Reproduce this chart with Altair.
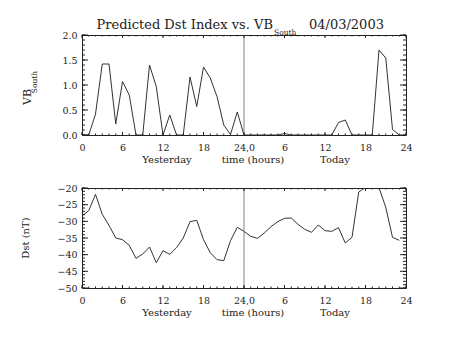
import altair as alt
import pandas as pd

# ---------------- data ----------------
hours = list(range(48))  # 0-23 yesterday, 24-47 today
vb_yesterday = [0, 0, 0.42, 1.42, 1.42, 0.22, 1.07, 0.80, 0, 0, 1.40, 0.97,
                0, 0.40, 0, 0, 1.16, 0.57, 1.36, 1.14, 0.77, 0.20, 0.01, 0.46]
vb_today = [0, 0, 0, 0, 0, 0, 0.03, 0, 0, 0, 0, 0,
            0, 0, 0.25, 0.30, 0, 0, 0, 0, 1.70, 1.54, 0.11, 0]
dst_yesterday = [-28.4, -26.8, -21.9, -27.9, -31.2, -35.0, -35.5, -37.2, -41.1, -39.8, -37.7, -42.4,
                 -38.8, -39.9, -37.9, -35.0, -30.1, -29.7, -35.5, -39.4, -41.5, -41.8, -35.8, -31.8]
dst_today = [-33.0, -34.5, -35.1, -33.5, -31.6, -30.1, -29.1, -29.0, -30.9, -32.4, -33.3, -31.1,
             -32.8, -33.0, -31.9, -36.5, -34.8, -21.2, -19.8, -18.5, -19.9, -25.8, -34.8, -35.7]

x_tick_values = [0, 6, 12, 18, 24, 30, 36, 42, 48]
x_tick_labels = ["0", "6", "12", "18", "24,0", "6", "12", "18", "24"]
vb_ticks = [0.0, 0.5, 1.0, 1.5, 2.0]
dst_ticks = [-20, -25, -30, -35, -40, -45, -50]
title_main = "Predicted Dst Index vs. VB"
title_sub = "South"
title_date = "04/03/2003"
x_titles = ["Yesterday", "time (hours)", "Today"]
x_title_px = [85, 171, 253]
divider_hour = [24]

# ---------------- style ----------------
W, H = 324, 100
FONT = "DejaVu Serif"
INK = "#222222"
LINE = "#333333"

xscale = alt.Scale(domain=[0, 48], nice=False, zero=False)
label_expr = " : ".join(f"datum.value == {v} ? '{l}'" for v, l in zip(x_tick_values, x_tick_labels)) + " : ''"

xaxis = alt.Axis(values=x_tick_values, labelExpr=label_expr, ticks=False, tickSize=0, domain=False,
                 grid=False, title=None, labelFont=FONT, labelFontSize=9.5, labelPadding=7,
                 labelColor=INK, labelFlush=False, labelOverlap=False)


def text_layer(txt, x, y, size, align="center", angle=0, baseline="alphabetic"):
    kw = dict(align=align, baseline=baseline, font=FONT, fontSize=size, color=INK)
    if angle:
        kw["angle"] = angle
    return alt.Chart(pd.DataFrame({"t": [txt]})).mark_text(**kw).encode(
        x=alt.value(x), y=alt.value(y), text="t:N")


def panel(values, ydomain, yticks, yminor, yfmt, extra):
    yscale = alt.Scale(domain=ydomain, nice=False, zero=False)
    yaxis = alt.Axis(values=yticks, format=yfmt, ticks=False, tickSize=0, domain=False, grid=False,
                     title=None, labelFont=FONT, labelFontSize=9.5, labelPadding=5, labelColor=INK,
                     labelFlush=False, labelOverlap=False)
    df = pd.DataFrame({"hour": hours, "value": values})
    line = alt.Chart(df).mark_line(color=LINE, strokeWidth=1, clip=True).encode(
        x=alt.X("hour:Q", scale=xscale, axis=xaxis),
        y=alt.Y("value:Q", scale=yscale, axis=yaxis),
    )
    div = alt.Chart(pd.DataFrame({"h": divider_hour})).mark_rule(color="#808080", strokeWidth=1).encode(
        x=alt.X("h:Q", scale=xscale, axis=xaxis))

    xmaj = pd.DataFrame({"v": x_tick_values})
    xmin = pd.DataFrame({"v": hours + [48]})
    ymaj = pd.DataFrame({"v": yticks})
    ymin = pd.DataFrame({"v": yminor})
    ticks = []
    for d, ln in ((xmaj, 3), (xmin, 1.5)):
        ticks.append(alt.Chart(d).mark_rule(color=INK, strokeWidth=1).encode(
            x=alt.X("v:Q", scale=xscale, axis=xaxis), y=alt.value(H), y2=alt.value(H - ln)))
        ticks.append(alt.Chart(d).mark_rule(color=INK, strokeWidth=1).encode(
            x=alt.X("v:Q", scale=xscale, axis=xaxis), y=alt.value(0), y2=alt.value(ln)))
    for d, ln in ((ymaj, 6), (ymin, 3)):
        ticks.append(alt.Chart(d).mark_rule(color=INK, strokeWidth=1).encode(
            y=alt.Y("v:Q", scale=yscale, axis=yaxis), x=alt.value(0), x2=alt.value(ln)))
        ticks.append(alt.Chart(d).mark_rule(color=INK, strokeWidth=1).encode(
            y=alt.Y("v:Q", scale=yscale, axis=yaxis), x=alt.value(W), x2=alt.value(W - ln)))

    xt = [text_layer(t, px, H + 28, 10) for t, px in zip(x_titles, x_title_px)]
    return alt.layer(line, div, *ticks, *xt, *extra).properties(width=W, height=H)


anchor = alt.Chart(pd.DataFrame({"a": [0]})).mark_rule(color="white", strokeWidth=1).encode(
    x=alt.value(-80.5), x2=alt.value(-80.5), y=alt.value(-34), y2=alt.value(-33))

top_extra = [
    anchor,
    text_layer(title_main, 191, -6, 13, align="right"),
    text_layer(title_sub, 192, 0, 7.5, align="left"),
    text_layer(title_date, 227, -6, 13, align="left"),
    text_layer("VB", -54, 62, 11, angle=270, baseline="middle"),
    text_layer(title_sub, -47, 47, 7.5, angle=270, baseline="middle"),
]
bottom_extra = [
    text_layer("Dst (nT)", -56, 50, 10, angle=270, baseline="middle"),
]

vb_minor = [round(i * 0.1, 1) for i in range(21)]
dst_minor = list(range(-50, -19))

top = panel(vb_yesterday + vb_today, [0, 2], vb_ticks, vb_minor, ".1f", top_extra)
bottom = panel(dst_yesterday + dst_today, [-50, -20], dst_ticks, dst_minor, "d", bottom_extra)

chart = alt.vconcat(top, bottom, spacing=53, bounds="flush").properties(
    padding=0, background="white"
).configure_view(stroke=INK, strokeWidth=1)

chart.save("out.html", embed_options={"renderer": "svg", "actions": False})
